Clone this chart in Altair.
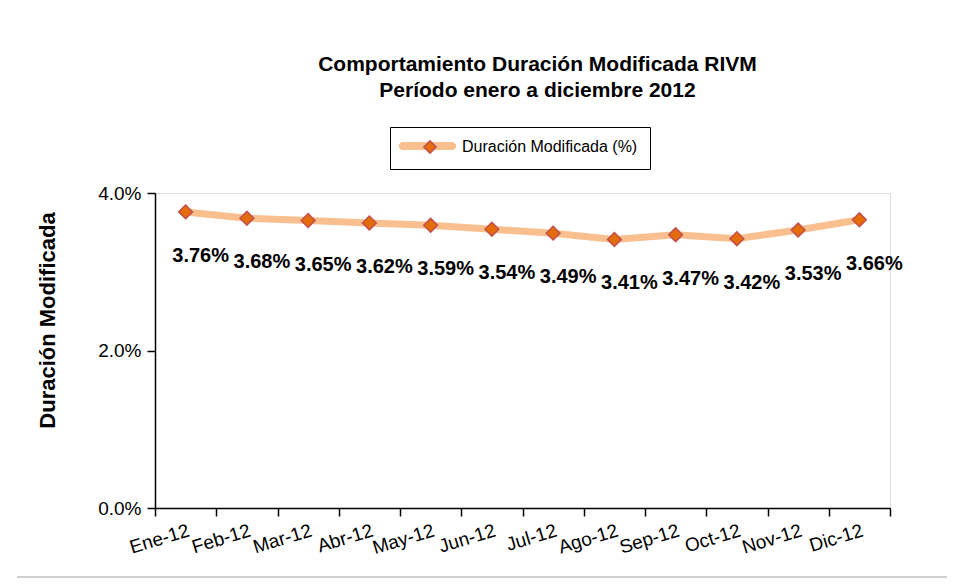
import altair as alt
import pandas as pd

months = ["Ene-12", "Feb-12", "Mar-12", "Abr-12", "May-12", "Jun-12",
          "Jul-12", "Ago-12", "Sep-12", "Oct-12", "Nov-12", "Dic-12"]
values = [0.0376, 0.0368, 0.0365, 0.0362, 0.0359, 0.0354,
          0.0349, 0.0341, 0.0347, 0.0342, 0.0353, 0.0366]
series_name = "Duración Modificada (%)"
y_ticks = [0.0, 0.02, 0.04]

df = pd.DataFrame({"mes": months, "valor": values, "serie": [series_name] * len(months)})

FONT = "Liberation Sans"
LINE_COLOR = "#F9BF8F"
MARK_FILL = "#E46C0A"
MARK_STROKE = "#C0504D"

x_enc = alt.X("mes:N", sort=months, title=None,
              scale=alt.Scale(paddingInner=0, paddingOuter=0),
              axis=alt.Axis(labelAngle=-17, labelAlign="right", labelBaseline="top",
                            labelFontSize=19, labelPadding=5, labelColor="black",
                            tickBand="extent", tickSize=8, tickColor="black", tickWidth=1.5,
                            domainColor="black", domainWidth=1.5, labelFont=FONT))
y_enc = alt.Y("valor:Q", scale=alt.Scale(domain=[0, 0.04]),
              title="Duración Modificada",
              axis=alt.Axis(values=y_ticks, format=".1%", grid=False,
                            labelFontSize=19, labelColor="black", labelFont=FONT,
                            labelPadding=6, tickSize=8, tickColor="black", tickWidth=1.5,
                            domainColor="black", domainWidth=1.5,
                            titleFont=FONT, titleFontSize=22, titleFontWeight="bold",
                            titleColor="black", titleX=-108, titleY=127,
                            titleAlign="center", titleBaseline="middle", titleAngle=-90))

base = alt.Chart(df)

bottom_border = base.mark_rule(color="#CFCFCF", strokeWidth=1.5).encode(
    x=alt.value(-138), x2=alt.value(792), y=alt.value(384))

line = base.mark_line(color=LINE_COLOR, strokeWidth=7).encode(x=x_enc, y=y_enc)

legend_line = base.mark_rule(color=LINE_COLOR, strokeWidth=7, strokeCap="round").encode(
    x=alt.value(248), x2=alt.value(297), y=alt.value(-47))

points = base.mark_point(shape="diamond", filled=True, size=190, opacity=1,
                         stroke=MARK_STROKE, strokeWidth=1.5).encode(
    x=alt.X("mes:N", sort=months),
    y=alt.Y("valor:Q"),
    color=alt.Color("serie:N", scale=alt.Scale(range=[MARK_FILL]),
                    legend=alt.Legend(title=None, orient="none", legendX=235, legendY=-66,
                                      strokeColor="black", padding=12,
                                      symbolType="diamond", symbolSize=150,
                                      symbolStrokeColor=MARK_STROKE, symbolStrokeWidth=1.5,
                                      symbolOffset=20, labelOffset=24, labelLimit=0,
                                      labelFontSize=16, labelFont=FONT, labelColor="black")))

labels = base.mark_text(fontSize=20, fontWeight="bold", font=FONT, color="black",
                        dx=15, dy=44, align="center", baseline="middle").encode(
    x=alt.X("mes:N", sort=months),
    y=alt.Y("valor:Q"),
    text=alt.Text("valor:Q", format=".2%"))

chart = alt.layer(bottom_border, line, legend_line, points, labels).properties(
    width=735, height=315,
    title=alt.TitleParams(text=["Comportamiento Duración Modificada RIVM",
                                "Período enero a diciembre 2012"],
                          anchor="middle", frame="group", fontSize=21, fontWeight="bold",
                          font=FONT, color="black", lineHeight=26, offset=26, dx=15),
    autosize=alt.AutoSizeParams(type="none"),
    padding={"left": 147, "top": 185, "right": 65, "bottom": 71},
).configure_view(stroke=None).configure(background="white")

chart.save("out.html", embed_options={"renderer": "svg", "actions": False})
